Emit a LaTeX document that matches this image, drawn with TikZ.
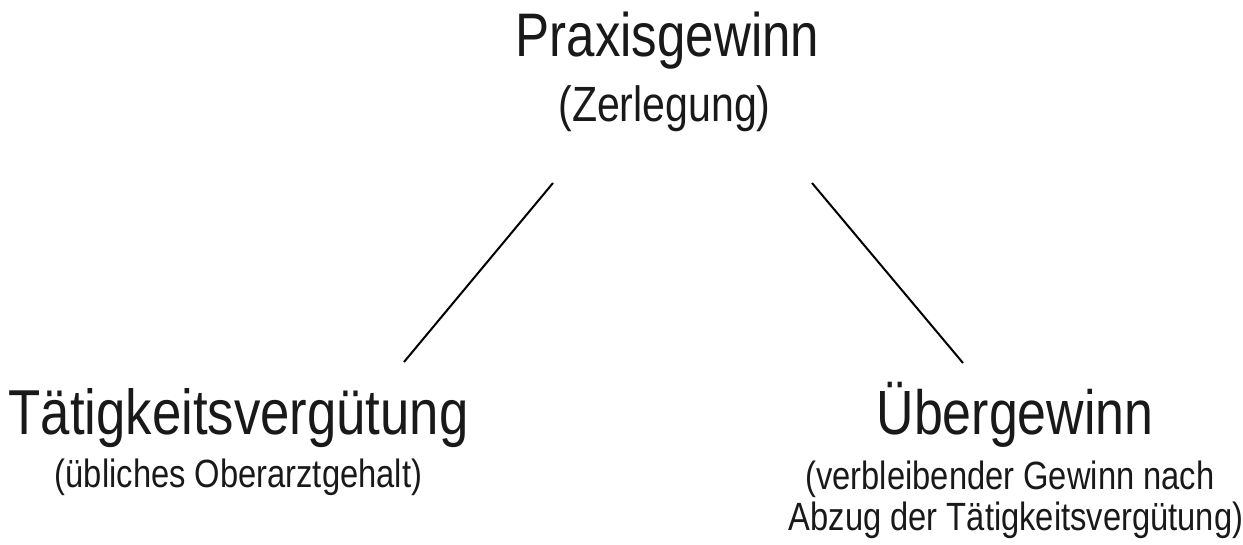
\documentclass[tikz,border=0pt]{standalone}
\usepackage{fontspec}
\setmainfont{Liberation Sans}
\newfontfamily\narrowfont[FakeStretch=0.83]{Liberation Sans}
\newcommand{\fs}[1]{\fontsize{#1}{#1}\selectfont}
\begin{document}
\begin{tikzpicture}[x=1pt,y=-1pt,
  lbl/.style={anchor=base,inner sep=0pt,text=black!90,font=\narrowfont},
  big/.style={lbl,font=\narrowfont\fs{61.5}},
  mid/.style={lbl,font=\narrowfont\fs{49.5}},
  small/.style={lbl,font=\narrowfont\fs{39.4}},
  link/.style={line width=2pt,black}]
  \useasboundingbox (0,0) rectangle (1243,545);
  % top heading
  \node[big] (top)    at (667.5,57)  {Praxisgewinn};
  \node[mid] (topsub) at (664.5,122) {(Zerlegung)};
  % left branch
  \node[big,font=\narrowfont\fs{63.5}] (left) at (238.5,435) {Tätigkeitsvergütung};
  \node[small] (leftsub) at (238.5,487) {(übliches Oberarztgehalt)};
  % right branch
  \node[big,font=\narrowfont\fs{62.5}] (right) at (1015,435) {Übergewinn};
  \node[small] (rightsubA) at (1010,489) {(verbleibender Gewinn nach};
  \node[small] (rightsubB) at (1016,530) {Abzug der Tätigkeitsvergütung)};
  % connector ends
  \coordinate (tl) at (553,183);
  \coordinate (bl) at (404,362);
  \coordinate (tr) at (812,183);
  \coordinate (br) at (963,363);
  \draw[link] (tl) -- (bl);
  \draw[link] (tr) -- (br);
\end{tikzpicture}
\end{document}
